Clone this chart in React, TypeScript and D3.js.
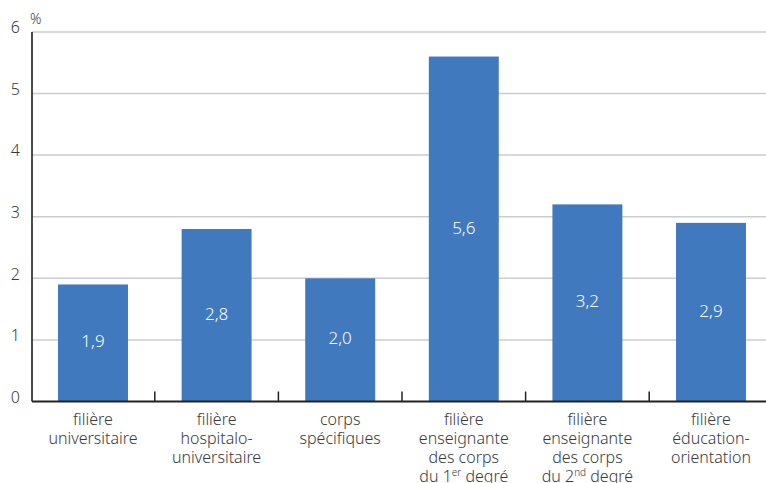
import React from "react";
import * as d3 from "d3";

// Category labels: lines, with "^" marking a superscript suffix up to the next space
const categories = [
  "filière universitaire",
  "filière hospitalo-universitaire",
  "corps spécifiques",
  "filière enseignante 1er",
  "filière enseignante 2nd",
  "filière éducation-orientation",
];
const labelLines: string[][] = [
  ["filière", "universitaire"],
  ["filière", "hospitalo-", "universitaire"],
  ["corps", "spécifiques"],
  ["filière", "enseignante", "des corps", "du 1^er degré"],
  ["filière", "enseignante", "des corps", "du 2^nd degré"],
  ["filière", "éducation-", "orientation"],
];
const values = [1.9, 2.8, 2.0, 5.6, 3.2, 2.9];
const yTicks = [0, 1, 2, 3, 4, 5, 6];

const W = 766;
const H = 483;
const FONT = "'Noto Sans', 'Open Sans', sans-serif";
const BAR = "#4179bf";
const TEXT = "#3a3a3a";

const fmt = (v: number) => v.toFixed(1).replace(".", ",");

function Line({ text, x, y }: { text: string; x: number; y: number }) {
  const m = text.match(/^(.*?)(\d)\^(\S+)(.*)$/);
  if (!m) {
    return (
      <text x={x} y={y} textAnchor="middle">
        {text}
      </text>
    );
  }
  return (
    <text x={x} y={y} textAnchor="middle">
      {m[1]}
      {m[2]}
      <tspan fontSize={10} dy={-6}>
        {m[3]}
      </tspan>
      <tspan dy={6}>{m[4]}</tspan>
    </text>
  );
}

export default function App() {
  const x = d3
    .scaleBand<string>()
    .domain(categories)
    .range([31.2, 772.8])
    .paddingInner(0.434)
    .paddingOuter(0.217);
  const y = d3.scaleLinear().domain([0, 6]).range([401.5, 31.9]);
  const step = x.step();
  const x0 = x.range()[0];
  const plotLeft = 32;

  return (
    <svg
      width={W}
      height={H}
      style={{ position: "absolute", left: 0, top: 0, background: "#fff" }}
      fontFamily={FONT}
      fontWeight={300}
    >
      {/* horizontal grid */}
      {yTicks
        .filter((t) => t > 0)
        .map((t) => (
          <line
            key={t}
            x1={plotLeft}
            x2={W}
            y1={y(t)}
            y2={y(t)}
            stroke="#cccccc"
            strokeWidth={1.5}
          />
        ))}
      {/* y tick labels */}
      {yTicks.map((t) => (
        <text
          key={t}
          x={20}
          y={y(t) - 3}
          textAnchor="end"
          dominantBaseline="middle"
          fontSize={16}
          fill={TEXT}
        >
          {t}
        </text>
      ))}
      <text x={30} y={24} fontSize={14} fill={TEXT}>
        %
      </text>
      {/* bars */}
      {categories.map((c, i) => (
        <rect
          key={c}
          x={x(c)}
          y={y(values[i])}
          width={x.bandwidth()}
          height={y(0) - y(values[i])}
          fill={BAR}
        />
      ))}
      {/* value labels */}
      {categories.map((c, i) => (
        <text
          key={c}
          x={(x(c) as number) + x.bandwidth() / 2}
          y={(y(values[i]) + y(0)) / 2}
          textAnchor="middle"
          dominantBaseline="middle"
          fontSize={17}
          fill="#fff"
        >
          {fmt(values[i])}
        </text>
      ))}
      {/* category separator ticks */}
      {d3.range(1, categories.length).map((i) => (
        <line
          key={i}
          x1={x0 + i * step}
          x2={x0 + i * step}
          y1={y(0)}
          y2={y(0) - 10}
          stroke="#222"
          strokeWidth={1.5}
        />
      ))}
      {/* axes */}
      <line x1={plotLeft} x2={plotLeft} y1={y(6)} y2={y(0)} stroke="#111" strokeWidth={1.5} />
      <line x1={plotLeft} x2={W} y1={y(0)} y2={y(0)} stroke="#222" strokeWidth={2} />
      {/* category labels */}
      <g fontSize={16} fill={TEXT}>
        {categories.map((c, i) =>
          labelLines[i].map((ln, j) => (
            <Line
              key={c + j}
              text={ln}
              x={(x(c) as number) + x.bandwidth() / 2}
              y={425 + j * 19}
            />
          ))
        )}
      </g>
    </svg>
  );
}
